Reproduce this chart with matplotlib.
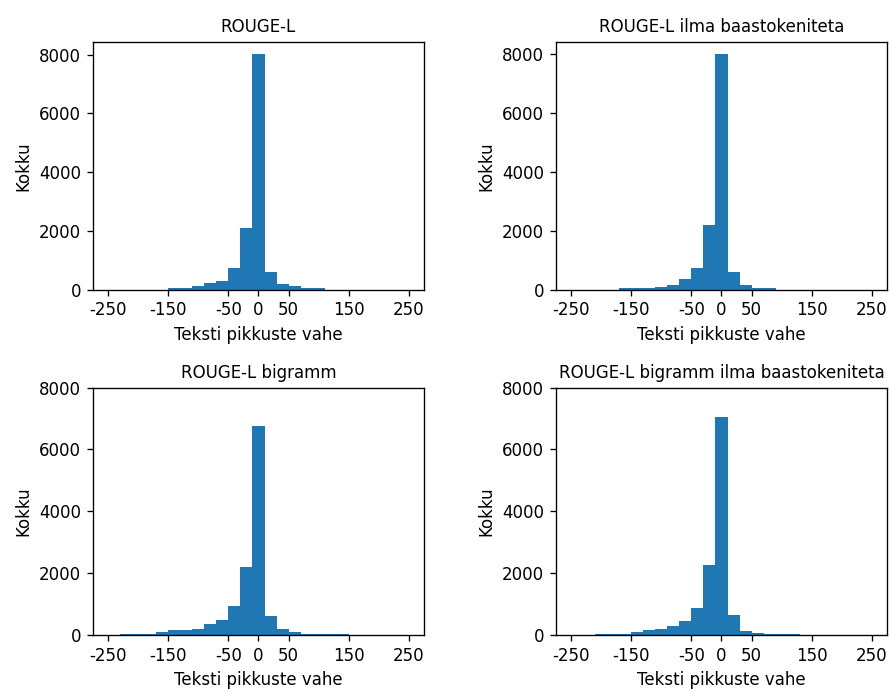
import numpy as np
import matplotlib
matplotlib.use("Agg")
import matplotlib.pyplot as plt

# histogram counts (bin width 20)
titles = ["ROUGE-L", "ROUGE-L ilma baastokeniteta",
          "ROUGE-L bigramm", "ROUGE-L bigramm ilma baastokeniteta"]

edges_rl = [-150, -130, -110, -90, -70, -50, -30, -10, 10, 30, 50, 70, 90, 110]
counts_rl = [57, 57, 113, 210, 283, 737, 2100, 8030, 590, 180, 110, 57, 57]

edges_rl_nb = [-170, -150, -130, -110, -90, -70, -50, -30, -10, 10, 30, 50, 70, 90]
counts_rl_nb = [50, 55, 57, 100, 170, 373, 735, 2200, 7990, 588, 170, 57, 57]

edges_bi = [-230, -210, -190, -170, -150, -130, -110, -90, -70, -50, -30, -10,
            10, 30, 50, 70, 90, 110, 130, 150]
counts_bi = [45, 45, 45, 95, 155, 155, 190, 345, 495, 935, 2200, 6750,
             600, 190, 95, 45, 45, 45, 45]

edges_bi_nb = [-210, -190, -170, -150, -130, -110, -90, -70, -50, -30, -10,
               10, 30, 50, 70, 90, 110, 130]
counts_bi_nb = [40, 40, 40, 90, 160, 200, 280, 440, 870, 2250, 7050,
                640, 145, 80, 40, 40, 40]

all_edges = [edges_rl, edges_rl_nb, edges_bi, edges_bi_nb]
all_counts = [counts_rl, counts_rl_nb, counts_bi, counts_bi_nb]

xticks = [-250, -150, -50, 0, 50, 150, 250]
xtick_labels = ["-250", "-150", "-50", "0", "50", "150", "250"]

fig, axes = plt.subplots(2, 2, figsize=(890 / 120, 691 / 120), dpi=120)
plt.subplots_adjust(left=0.1045, right=0.9966, top=0.9392, bottom=0.081,
                    wspace=0.399, hspace=0.396)

for i, ax in enumerate(axes.flat):
    edges = np.array(all_edges[i])
    centers = (edges[:-1] + edges[1:]) / 2
    ax.hist(centers, bins=edges, weights=all_counts[i], color="#1f77b4")
    ax.set_title(titles[i], fontsize=10)
    ax.set_xlabel("Teksti pikkuste vahe")
    ax.set_ylabel("Kokku")
    ax.set_xlim(-275, 275)
    ax.set_xticks(xticks)
    ax.set_xticklabels(xtick_labels)
    ax.set_yticks([0, 2000, 4000, 6000, 8000])
    if i >= 2:
        ax.set_ylim(0, 8000)

plt.savefig("out.png", dpi=120)
